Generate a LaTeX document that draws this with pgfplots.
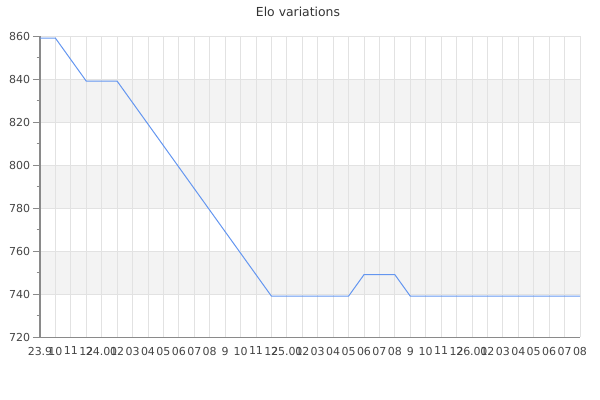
\documentclass[border=0pt]{standalone}
\usepackage{pgfplots}
\pgfplotsset{compat=1.18}
\usepackage{fontspec}
\setmainfont{DejaVu Sans}

\definecolor{eloline}{RGB}{100,150,240}
\definecolor{band}{HTML}{F3F3F3}
\definecolor{gridc}{HTML}{E2E2E2}
\definecolor{axisc}{HTML}{8A8A8A}
\definecolor{labelc}{HTML}{444444}
\definecolor{titlec}{HTML}{333333}

\begin{document}
\begin{tikzpicture}
\begin{axis}[
    at={(0,0)}, anchor=south west,
    scale only axis,
    width=405pt, height=225.75pt,
    xmin=0, xmax=35,
    ymin=720, ymax=860,
    axis x line*=bottom, axis y line*=left,
    axis line style={-, axisc, line width=0.75pt},
    set layers,
    xtick={0,...,35},
    xticklabels={23.9,10,11,12,24.01,02,03,04,05,06,07,08,9,10,11,12,25.01,02,03,04,05,06,07,08,9,10,11,12,26.01,02,03,04,05,06,07,08},
    ytick={720,740,...,860},
    minor y tick num=1,
    tick align=outside,
    major tick length=5.25pt,
    minor tick length=2.6pt,
    xtick style={/pgfplots/major tick length=0pt},
    ytick style={axisc, line width=0.75pt},
    minor tick style={axisc, line width=0.75pt},
    xmajorgrids, ymajorgrids,
    major grid style={gridc, line width=0.75pt},
    tick label style={font=\fontsize{8.25}{10}\selectfont, text=labelc},
    xticklabel style={inner sep=0pt, yshift=-2pt},
    yticklabel style={inner sep=0pt, xshift=-2pt},
    /pgf/number format/assume math mode=true,
]
\addplot[eloline, line width=0.75pt, mark=none] coordinates {
    (0,859) (1,859) (2,849) (3,839) (4,839) (5,839)
    (6,829) (7,819) (8,809) (9,799) (10,789) (11,779)
    (12,769) (13,759) (14,749) (15,739) (16,739) (17,739)
    (18,739) (19,739) (20,739) (21,749) (22,749) (23,749)
    (24,739) (25,739) (26,739) (27,739) (28,739) (29,739)
    (30,739) (31,739) (32,739) (33,739) (34,739) (35,739)
};
\begin{pgfonlayer}{axis background}
\fill[band] (axis cs:0,820) rectangle (axis cs:35,840);
\fill[band] (axis cs:0,780) rectangle (axis cs:35,800);
\fill[band] (axis cs:0,740) rectangle (axis cs:35,760);
\end{pgfonlayer}
\end{axis}
\node[text=titlec, font=\fontsize{9.3}{11}\selectfont] at (193.5pt,243.75pt) {Elo variations};
% canvas: 600x400 px at 0.75pt per px
\path (-30pt,-47.25pt) rectangle (420pt,252.75pt);
\end{tikzpicture}
\end{document}
